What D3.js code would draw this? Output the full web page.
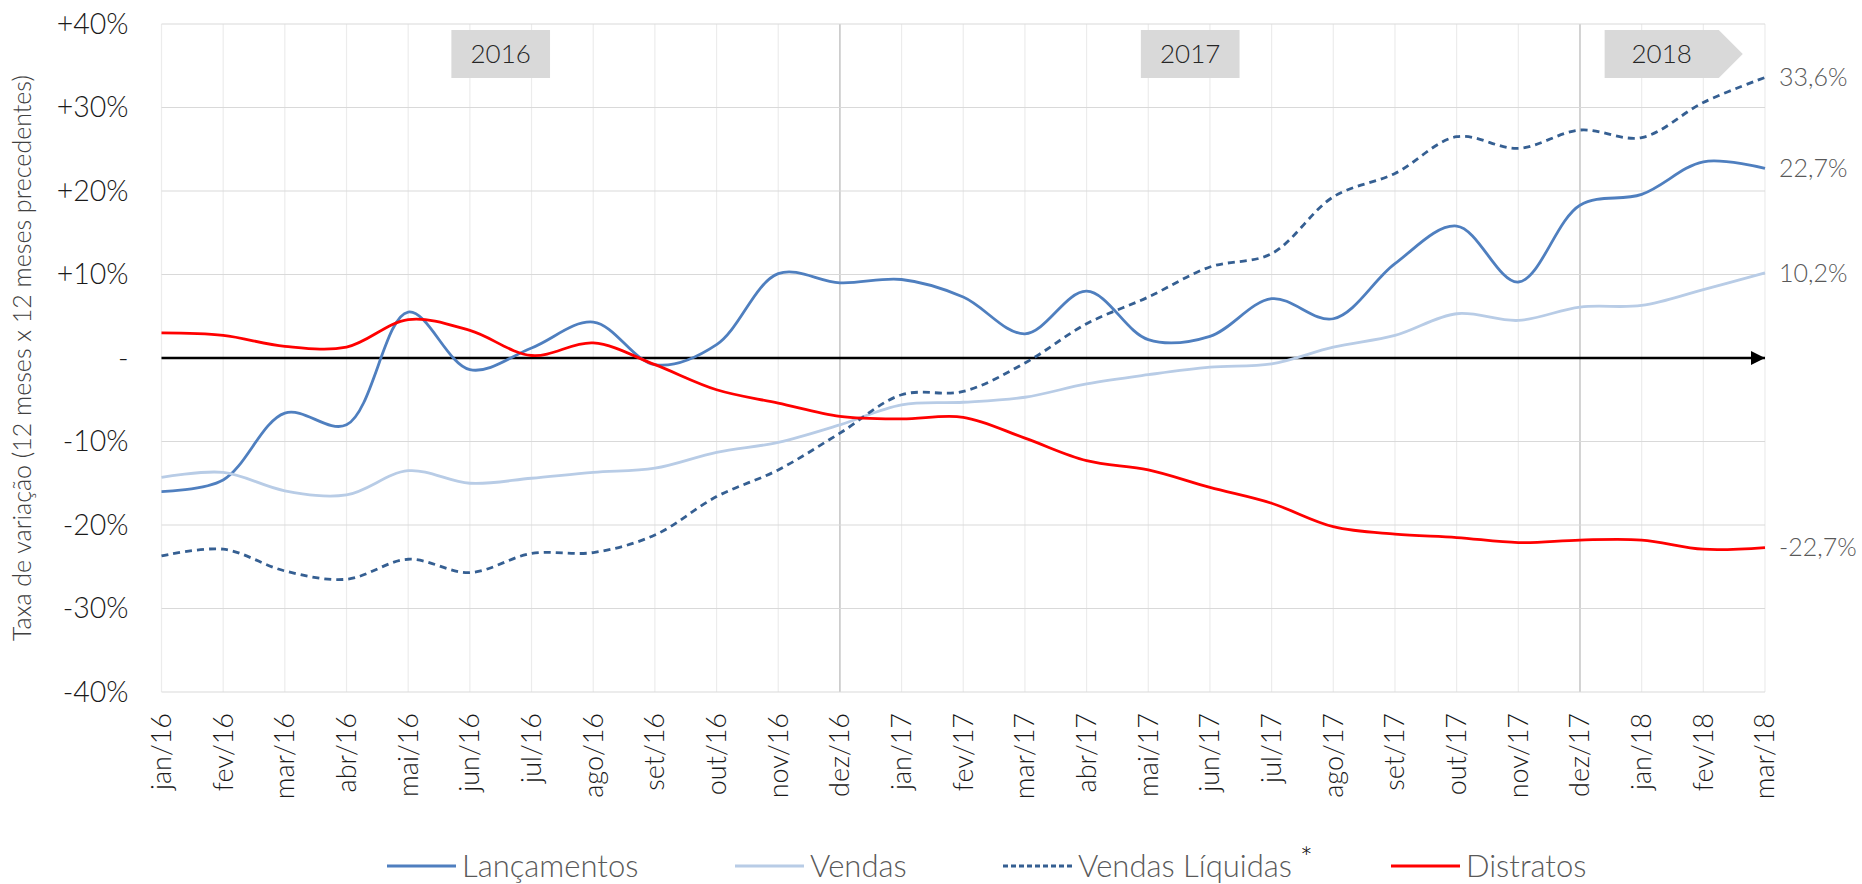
<!DOCTYPE html>
<meta charset="utf-8">
<style>
    body { margin: 0; background: #fff; }
    svg { font-family: Lato, "Open Sans", sans-serif; font-weight: 300; }
    .grid-h line { stroke: #d9d9d9; stroke-width: 1.2px; }
    .grid-v line { stroke: #ececec; stroke-width: 1.2px; }
    .series { fill: none; stroke-width: 2.8px; }
</style>
<svg width="1862" height="884"></svg>
<script src="https://d3js.org/d3.v7.min.js"></script>
<script>

    var months = ["jan/16", "fev/16", "mar/16", "abr/16", "mai/16", "jun/16", "jul/16", "ago/16", "set/16",
        "out/16", "nov/16", "dez/16", "jan/17", "fev/17", "mar/17", "abr/17", "mai/17", "jun/17", "jul/17",
        "ago/17", "set/17", "out/17", "nov/17", "dez/17", "jan/18", "fev/18", "mar/18"];

    var lancamentos = [-16.0, -14.6, -6.6, -8.0, 5.5, -1.4, 1.2, 4.3, -0.8, 1.6, 10.1, 9.0, 9.4, 7.3, 2.9,
        8.0, 2.2, 2.6, 7.1, 4.7, 11.3, 15.8, 9.1, 18.3, 19.6, 23.5, 22.7];
    var vendas = [-14.3, -13.7, -15.9, -16.4, -13.5, -15.0, -14.4, -13.7, -13.2, -11.3, -10.1, -8.0, -5.6,
        -5.3, -4.7, -3.1, -2.0, -1.1, -0.7, 1.3, 2.7, 5.3, 4.5, 6.1, 6.3, 8.2, 10.2];
    var vendasLiquidas = [-23.7, -22.9, -25.5, -26.5, -24.1, -25.7, -23.4, -23.3, -21.2, -16.6, -13.4, -9.0,
        -4.4, -4.0, -0.6, 4.1, 7.3, 10.9, 12.5, 19.3, 22.1, 26.5, 25.1, 27.3, 26.4, 30.6, 33.6];
    var distratos = [3.0, 2.7, 1.4, 1.3, 4.6, 3.3, 0.3, 1.8, -0.8, -3.8, -5.4, -7.0, -7.3, -7.1, -9.6, -12.3,
        -13.4, -15.5, -17.4, -20.2, -21.1, -21.5, -22.1, -21.8, -21.8, -22.9, -22.7];

    var yTicks = [40, 30, 20, 10, 0, -10, -20, -30, -40];
    var endLabels = ["33,6%", "22,7%", "10,2%", "-22,7%"];

    // year tags: [label, first month index, last month index]
    var years = [["2016", 4.7, 6.3], ["2017", 15.88, 17.48], ["2018", 23.4, 25.25]];

    var series = [
        {name: "Lançamentos", values: lancamentos, color: "#4f7fbf", dash: null},
        {name: "Vendas", values: vendas, color: "#b8cce6", dash: null},
        {name: "Vendas Líquidas", values: vendasLiquidas, color: "#355f92", dash: "7,5"},
        {name: "Distratos", values: distratos, color: "#ff0000", dash: null}
    ];

    var svg = d3.select("svg"),
        margin = {top: 24, right: 97, bottom: 192, left: 161.5},
        width = +svg.attr("width") - margin.left - margin.right,
        height = +svg.attr("height") - margin.top - margin.bottom;

    var x = d3.scaleLinear().domain([0, months.length - 1]).range([0, width]);
    var y = d3.scaleLinear().domain([-40, 40]).range([height, 0]);

    var g = svg.append("g").attr("transform", "translate(" + margin.left + "," + margin.top + ")");

    // grid
    g.append("g").attr("class", "grid-v")
        .selectAll("line").data(months).enter().append("line")
        .attr("x1", function (d, i) { return x(i); })
        .attr("x2", function (d, i) { return x(i); })
        .attr("y1", 0).attr("y2", height)
        .style("stroke", function (d) { return d === "dez/16" || d === "dez/17" ? "#c8c8c8" : null; })
        .style("stroke-width", function (d) { return d === "dez/16" || d === "dez/17" ? "1.6px" : null; });

    g.append("g").attr("class", "grid-h")
        .selectAll("line").data(yTicks).enter().append("line")
        .attr("x1", 0).attr("x2", width)
        .attr("y1", function (d) { return y(d); })
        .attr("y2", function (d) { return y(d); });

    // y tick labels
    g.append("g").selectAll("text").data(yTicks).enter().append("text")
        .attr("x", -33)
        .attr("y", function (d) { return y(d); })
        .attr("dy", "0.35em")
        .attr("text-anchor", "end")
        .style("font-size", "28.5px")
        .style("fill", "#1a1a1a")
        .text(function (d) { return d > 0 ? "+" + d + "%" : d === 0 ? "-" : d + "%"; });

    // x tick labels
    g.append("g").selectAll("text").data(months).enter().append("text")
        .attr("transform", function (d, i) { return "translate(" + x(i) + "," + (height + 21) + ") rotate(-90)"; })
        .attr("dy", "0.35em")
        .attr("text-anchor", "end")
        .style("font-size", "27px")
        .style("fill", "#1a1a1a")
        .text(function (d) { return d; });

    // axis title
    svg.append("text")
        .attr("transform", "translate(22," + (margin.top + y(0)) + ") rotate(-90)")
        .attr("dy", "0.35em")
        .attr("text-anchor", "middle")
        .style("font-size", "25px")
        .style("fill", "#404040")
        .text("Taxa de variação (12 meses x 12 meses precedentes)");

    // year tags
    var tag = g.append("g").selectAll("g").data(years).enter().append("g");
    tag.append("path")
        .attr("d", function (d, i) {
            var x0 = x(d[1]), x1 = x(d[2]), t = 6, b = 54;
            if (i === 2) return "M" + x0 + "," + t + "H" + x1 + "L" + (x1 + 24) + "," + ((t + b) / 2) + "L" + x1 + "," + b + "H" + x0 + "Z";
            return "M" + x0 + "," + t + "H" + x1 + "V" + b + "H" + x0 + "Z";
        })
        .style("fill", "#d9d9d9");
    tag.append("text")
        .attr("x", function (d) { return (x(d[1]) + x(d[2])) / 2; })
        .attr("y", 30)
        .attr("dy", "0.35em")
        .attr("text-anchor", "middle")
        .style("font-size", "26px")
        .style("fill", "#262626")
        .text(function (d) { return d[0]; });

    // zero axis with arrow
    svg.append("defs").append("marker")
        .attr("id", "arrow")
        .attr("viewBox", "0 -5 10 10")
        .attr("refX", 10).attr("refY", 0)
        .attr("markerWidth", 5.5).attr("markerHeight", 6)
        .attr("markerUnits", "strokeWidth")
        .attr("orient", "auto")
        .append("path").attr("d", "M0,-5L10,0L0,5Z").style("fill", "#000");

    g.append("line")
        .attr("x1", 0).attr("x2", width)
        .attr("y1", y(0)).attr("y2", y(0))
        .style("stroke", "#000").style("stroke-width", 2.6)
        .attr("marker-end", "url(#arrow)");

    // series
    var line = d3.line()
        .x(function (d, i) { return x(i); })
        .y(function (d) { return y(d); })
        .curve(d3.curveCatmullRom.alpha(0.5));

    g.selectAll(".series").data(series).enter().append("path")
        .attr("class", "series")
        .attr("d", function (d) { return line(d.values); })
        .style("stroke", function (d) { return d.color; })
        .style("stroke-dasharray", function (d) { return d.dash; });

    // end labels
    var ends = [vendasLiquidas, lancamentos, vendas, distratos];
    g.append("g").selectAll("text").data(endLabels).enter().append("text")
        .attr("x", width + 14)
        .attr("y", function (d, i) { return y(ends[i][ends[i].length - 1]); })
        .attr("dy", "0.35em")
        .style("font-size", "25px")
        .style("fill", "#595959")
        .text(function (d) { return d; });

    // legend
    var legendX = [387, 735, 1003, 1391];
    var leg = svg.append("g").selectAll("g").data(series).enter().append("g")
        .attr("transform", function (d, i) { return "translate(" + legendX[i] + ",866)"; });
    leg.append("line")
        .attr("x1", 0).attr("x2", 69)
        .style("stroke", function (d) { return d.color; })
        .style("stroke-width", 3)
        .style("stroke-dasharray", function (d) { return d.dash ? "5,3" : null; });
    var lt = leg.append("text")
        .attr("x", 75)
        .attr("dy", "0.35em")
        .style("font-size", "31px")
        .style("fill", "#595959")
        .text(function (d) { return d.name; });
    lt.filter(function (d, i) { return i === 2; }).append("tspan")
        .attr("dx", 8).attr("dy", -9)
        .style("font-size", "30px")
        .style("fill", "#000")
        .text("*");

</script>
